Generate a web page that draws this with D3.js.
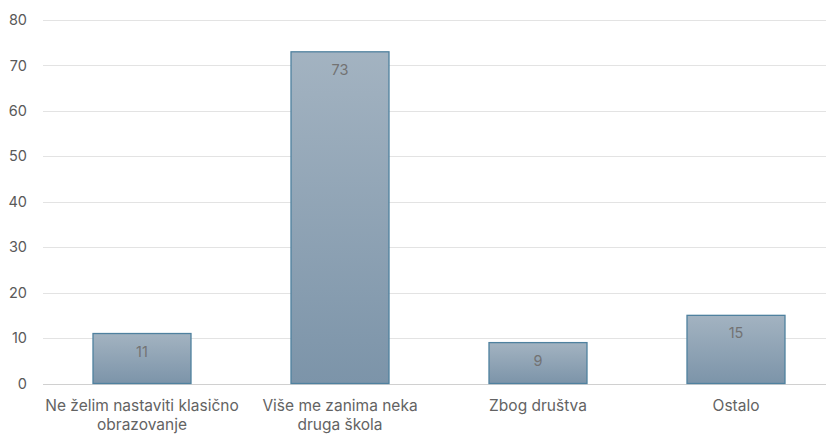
<!DOCTYPE html>
<html><head><meta charset="utf-8">
<script src="https://cdn.jsdelivr.net/npm/d3@7"></script>
<style>body{margin:0;background:#fff}svg{display:block}</style>
</head><body>
<svg id="c" width="826" height="434"></svg>
<script>
const categories = [["Ne želim nastaviti klasično","obrazovanje"],["Više me zanima neka","druga škola"],["Zbog društva"],["Ostalo"]];
const values = [11, 73, 9, 15];
const yTicks = [0,10,20,30,40,50,60,70,80];

const svg = d3.select("#c");
const font = "Inter, 'Open Sans', sans-serif";
const x = d3.scaleBand().domain(d3.range(values.length)).range([43, 835]).paddingInner(0.5).paddingOuter(0.25);
const y = d3.scaleLinear().domain([0, 80]).range([383.5, 20]);

const defs = svg.append("defs");
const g = defs.append("linearGradient").attr("id","bg").attr("x1",0).attr("y1",0).attr("x2",0).attr("y2",1);
g.append("stop").attr("offset","0%").attr("stop-color","#a3b3c1");
g.append("stop").attr("offset","100%").attr("stop-color","#7c94a9");

svg.append("g").selectAll("line").data(yTicks).join("line")
  .attr("x1",43).attr("x2",826)
  .attr("y1",d=>Math.round(y(d))+0.5).attr("y2",d=>Math.round(y(d))+0.5)
  .attr("stroke",d=>d===0?"#d0d0d0":"#e3e3e3").attr("stroke-width",1);

svg.append("g").selectAll("text").data(yTicks).join("text")
  .attr("x",27).attr("y",d=>y(d)).attr("dy","0.35em").attr("text-anchor","end")
  .attr("font-family",font).attr("font-size",14.5).attr("fill","#595959").text(d=>d);

svg.append("g").selectAll("rect").data(values).join("rect")
  .attr("x",(d,i)=>x(i)+0.5).attr("width",x.bandwidth()-1)
  .attr("y",d=>y(d)).attr("height",d=>y(0)-y(d))
  .attr("fill","url(#bg)").attr("stroke","#4f819f").attr("stroke-width",1.3);

svg.append("g").selectAll("text").data(values).join("text")
  .attr("x",(d,i)=>x(i)+x.bandwidth()/2).attr("y",d=>y(d)+23)
  .attr("text-anchor","middle").attr("font-family",font).attr("font-size",14.5)
  .attr("fill","#737373").text(d=>d);

const lab = svg.append("g").selectAll("text").data(categories).join("text")
  .attr("text-anchor","middle").attr("font-family",font).attr("font-size",15.5).attr("fill","#636363");
lab.each(function(lines,i){
  d3.select(this).selectAll("tspan").data(lines).join("tspan")
    .attr("x",x(i)+x.bandwidth()/2).attr("y",(d,j)=>411+j*19).text(d=>d);
});
</script>
</body></html>
